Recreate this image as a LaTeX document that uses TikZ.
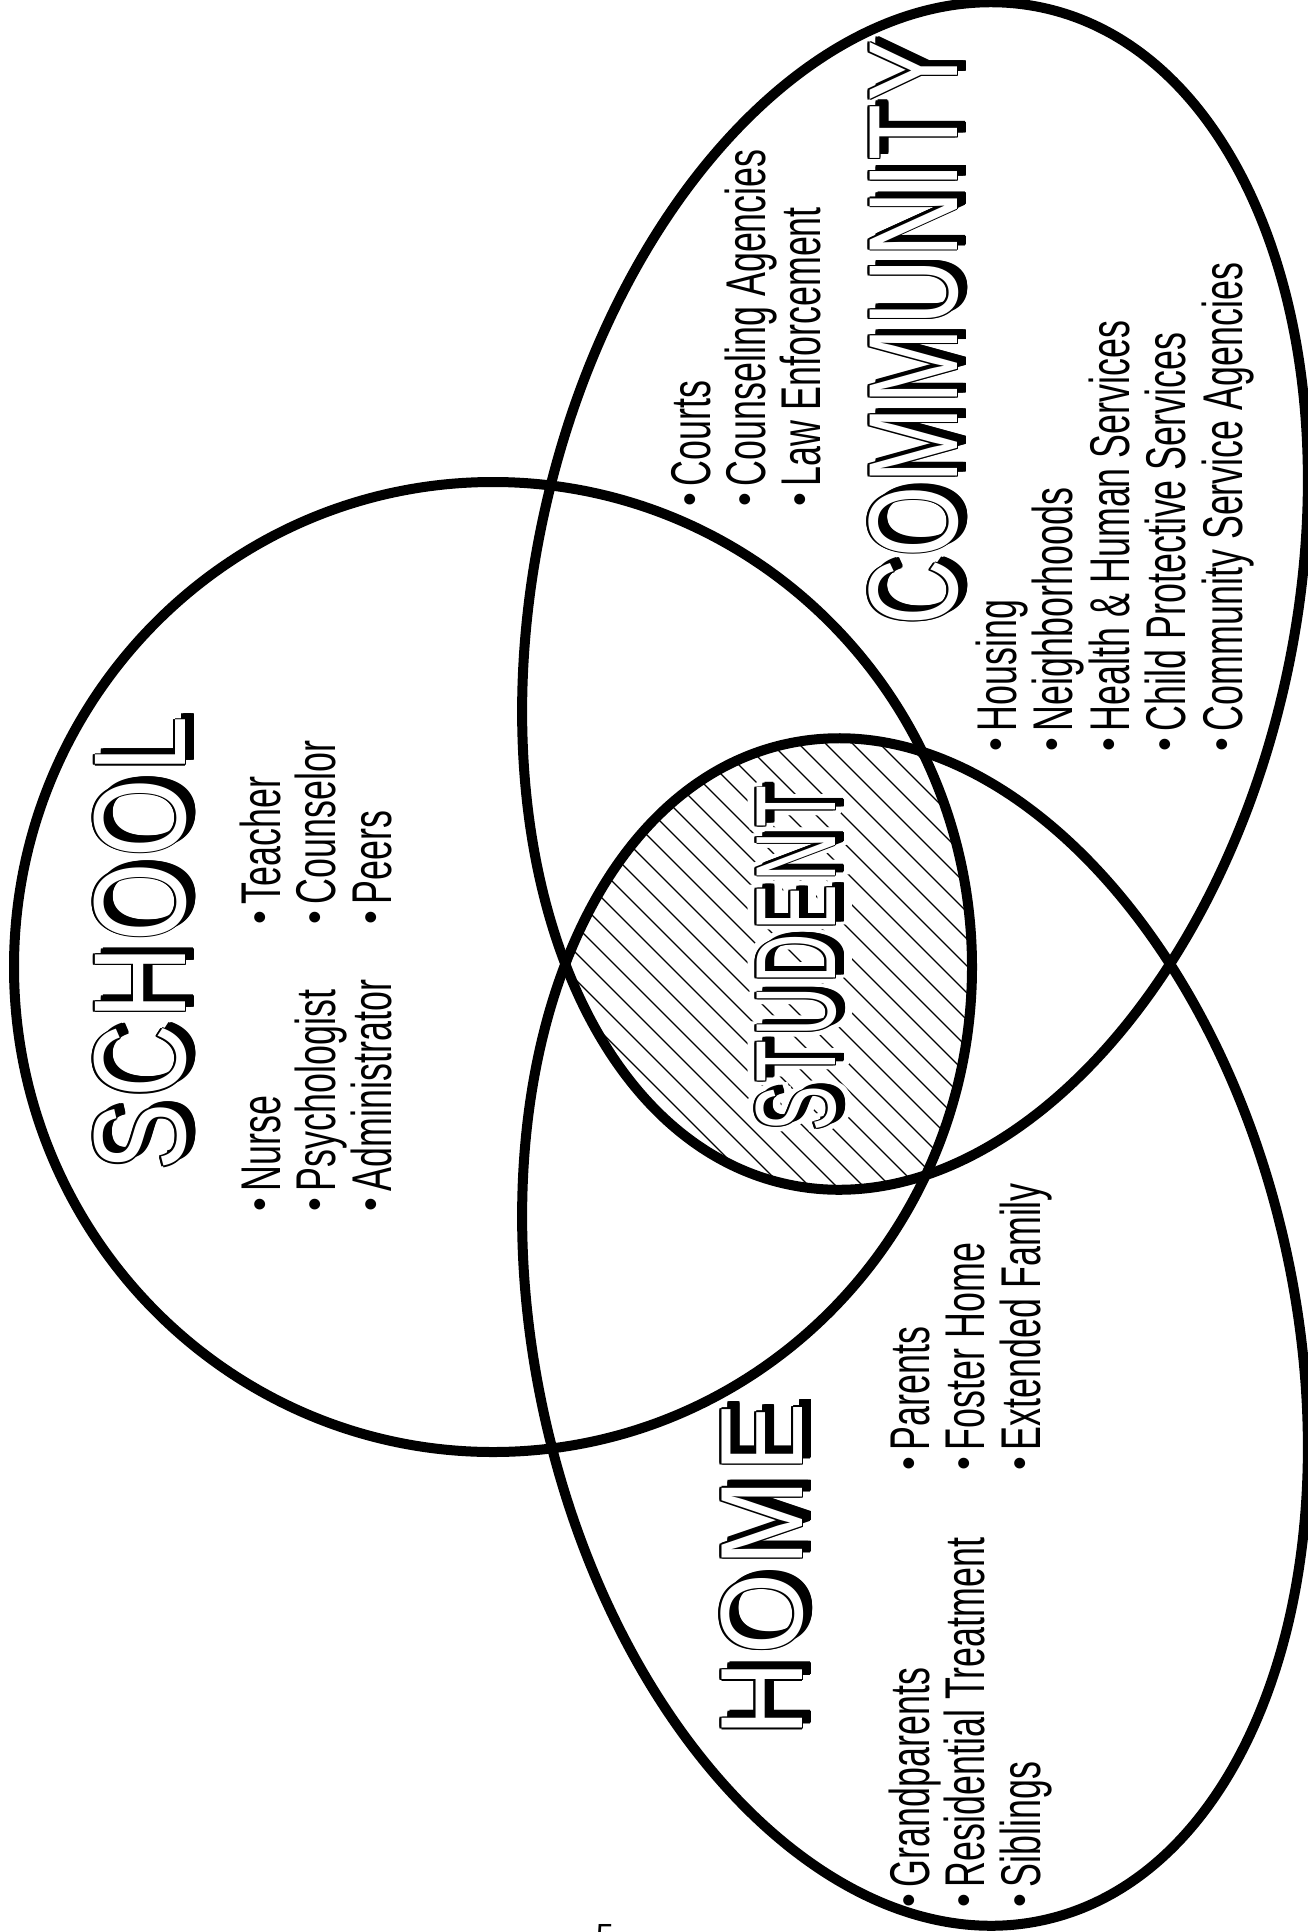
\documentclass[tikz,border=0pt]{standalone}
\usepackage{fontspec}
\usepackage{graphicx}
\setmainfont{Liberation Sans}
\newfontfamily\listfont{Liberation Sans}[FakeStretch=0.64]
\newfontfamily\titlefont{Liberation Sans}

\newlength\ringr
\newlength\halor
\newlength\tgap
\newcommand\tk{\kern\tgap}
% eight copies of #3 in colour #1, at distance #2 round it
\newcommand\ringtext[3]{%
  \setlength\ringr{#2}%
  \rlap{\color{#1}\kern\ringr#3}%
  \rlap{\color{#1}\kern-\ringr#3}%
  \rlap{\color{#1}\raisebox{\ringr}{#3}}%
  \rlap{\color{#1}\raisebox{-\ringr}{#3}}%
  \rlap{\color{#1}\kern.7\ringr\raisebox{.7\ringr}{#3}}%
  \rlap{\color{#1}\kern.7\ringr\raisebox{-.7\ringr}{#3}}%
  \rlap{\color{#1}\kern-.7\ringr\raisebox{.7\ringr}{#3}}%
  \rlap{\color{#1}\kern-.7\ringr\raisebox{-.7\ringr}{#3}}}
% outlined white letters with a black drop shadow
\newcommand\titletext[2][0pt]{%
  \setlength\halor{#1}%
  \ringtext{white}{\halor}{#2}\ringtext{white}{.5\halor}{#2}%
  \rlap{\kern7pt\raisebox{-8pt}{\ringtext{white}{\halor}{#2}\ringtext{black}{1.8pt}{#2}#2}}%
  \ringtext{black}{1.6pt}{#2}%
  \textcolor{white}{#2}}
\newcommand\itm{\raisebox{0.12em}{\scalebox{1.1}[0.72]{\textbullet}}\hspace{7pt}}

\tikzset{
  venn/.style={line width=10pt},
  hatch/.style={line width=1.2pt},
  entry/.style={rotate=90, anchor=base west, inner sep=0pt,
    font=\listfont\fontsize{56}{56}\selectfont},
  heading/.style={rotate=90, anchor=base west, inner sep=0pt, font=\titlefont}
}

\begin{document}
\begin{tikzpicture}[x=1pt,y=1pt]
  \path[use as bounding box, fill=white] (0,0) rectangle (1307,-1932);

  % hatching where all three sets meet
  \begin{scope}
    \clip (493,-967) ellipse [x radius=479, y radius=485];
    \clip[rotate around={77.7:(915,-596)}] (915,-596) ellipse [x radius=602, y radius=380];
    \clip[rotate around={-77.7:(915,-1332)}] (915,-1332) ellipse [x radius=602, y radius=380];
    \foreach \c in {-20,7,...,860}
      \draw[hatch] (\c,-600) -- ++(700,-700);
  \end{scope}

  % headings
  \node[heading] (school) at (185,-1171)
    {\setlength\tgap{7.3pt}\scalebox{0.77}[1]{\fontsize{131}{131}\selectfont\titletext{S\tk C\tk H\tk O\tk O\tk L}}};
  \node[heading] (home) at (802,-1737)
    {\setlength\tgap{8.2pt}\scalebox{0.89}[1]{\fontsize{117}{117}\selectfont\titletext{H\tk O\tk M\tk E}}};
  \node[heading] (community) at (957,-626)
    {\setlength\tgap{3.7pt}\scalebox{0.72}[1]{\fontsize{127}{127}\selectfont\titletext{C\tk O\tk M\tk M\tk U\tk N\tk I\tk T\tk Y}}};
  \node[heading] (student) at (835,-1132)
    {\setlength\tgap{6.3pt}\scalebox{0.6}[1]{\fontsize{114}{114}\selectfont\titletext[9pt]{S\tk T\tk U\tk D\tk E\tk N\tk T}}};

  % lists
  \foreach \txt [count=\i from 0] in {Nurse,Psychologist,Administrator}
    \node[entry] (sa\i) at (280+55.5*\i,-1212) {\itm\txt};
  \foreach \txt [count=\i from 0] in {Teacher,Counselor,Peers}
    \node[entry] (sb\i) at (280+55.5*\i,-925) {\itm\txt};
  \foreach \txt [count=\i from 0] in {Grandparents,Residential Treatment,Siblings}
    \node[entry] (ha\i) at (929+55.5*\i,-1908) {\itm\txt};
  \foreach \txt [count=\i from 0] in {Parents,Foster Home,Extended Family}
    \node[entry] (hb\i) at (929+55.5*\i,-1471) {\itm\txt};
  \foreach \txt [count=\i from 0] in {Courts,Counseling Agencies,Law Enforcement}
    \node[entry] (ca\i) at (710+55*\i,-507) {\itm\txt};
  \foreach \txt [count=\i from 0] in {Housing,Neighborhoods,Health \& Human Services,Child Protective Services,Community Service Agencies}
    \node[entry] (cb\i) at (1016+56.5*\i,-752) {\itm\txt};

  % page number, cut by the lower edge
  \node[anchor=base west, inner sep=0pt, font=\titlefont\fontsize{32}{32}\selectfont] (page) at (596,-1946) {5};

  % the three sets
  \draw[venn] (493,-967) ellipse [x radius=479, y radius=485];
  \draw[venn, rotate around={77.7:(915,-596)}] (915,-596) ellipse [x radius=602, y radius=380];
  \draw[venn, rotate around={-77.7:(915,-1332)}] (915,-1332) ellipse [x radius=602, y radius=380];
\end{tikzpicture}
\end{document}
